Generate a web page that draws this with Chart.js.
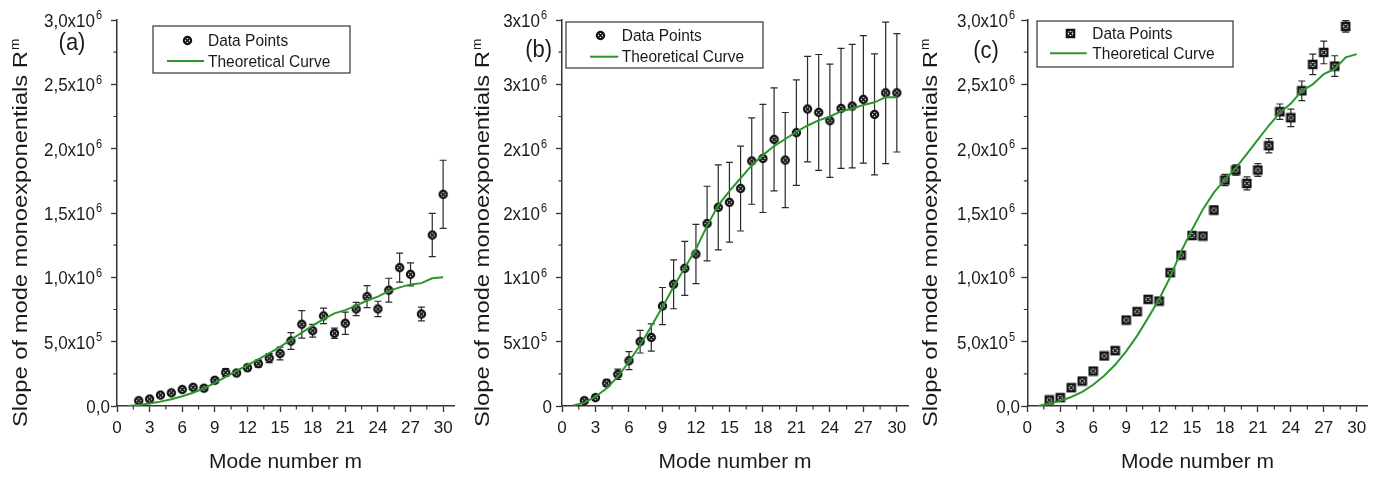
<!DOCTYPE html>
<html>
<head>
<meta charset="utf-8">
<script src="https://cdn.jsdelivr.net/npm/chart.js@4.4.1/dist/chart.umd.min.js"></script>
<style>
  html, body { margin: 0; padding: 0; background: #fff; }
  #wrap { position: relative; width: 1381px; height: 477px; overflow: hidden; }
  canvas { position: absolute; top: 0; }
</style>
</head>
<body>
<div id="wrap">
  <canvas id="chartA" width="460" height="477" style="left:0px"></canvas>
  <canvas id="chartB" width="460" height="477" style="left:460px"></canvas>
  <canvas id="chartC" width="461" height="477" style="left:920px"></canvas>
</div>
<script>
// --- data (slopes in units of 10^6) ---
const modes = [2, 3, 4, 5, 6, 7, 8, 9, 10, 11, 12, 13, 14, 15, 16, 17, 18, 19, 20, 21, 22, 23, 24, 25, 26, 27, 28, 29, 30];
const curveModes = [1, 2, 3, 4, 5, 6, 7, 8, 9, 10, 11, 12, 13, 14, 15, 16, 17, 18, 19, 20, 21, 22, 23, 24, 25, 26, 27, 28, 29, 30];

// (a)
const slopeA = [0.041, 0.054, 0.085, 0.102, 0.128, 0.145, 0.138, 0.200, 0.260, 0.256, 0.297, 0.329, 0.372, 0.408, 0.505,
                0.635, 0.585, 0.700, 0.565, 0.643, 0.754, 0.850, 0.754, 0.900, 1.075, 1.023, 0.715, 1.329, 1.645];
const errA = [0.015, 0.015, 0.015, 0.015, 0.015, 0.018, 0.018, 0.020, 0.030, 0.020, 0.022, 0.028, 0.035, 0.050, 0.065,
              0.107, 0.050, 0.060, 0.040, 0.087, 0.052, 0.085, 0.060, 0.093, 0.113, 0.090, 0.054, 0.168, 0.265];
const curveA = [0, 0.008, 0.020, 0.034, 0.052, 0.076, 0.103, 0.137, 0.180, 0.227, 0.273, 0.318, 0.363, 0.410, 0.460,
                0.515, 0.570, 0.625, 0.675, 0.720, 0.745, 0.780, 0.820, 0.850, 0.893, 0.922, 0.945, 0.955, 0.993, 1.000];

// (b)
const slopeB = [0.041, 0.065, 0.178, 0.246, 0.352, 0.500, 0.533, 0.777, 0.946, 1.070, 1.181, 1.418, 1.544, 1.583, 1.690,
                1.904, 1.924, 2.072, 1.911, 2.124, 2.308, 2.282, 2.217, 2.313, 2.331, 2.383, 2.266, 2.434, 2.434];
const errB = [0.020, 0.020, 0.025, 0.040, 0.070, 0.088, 0.106, 0.144, 0.190, 0.210, 0.230, 0.290, 0.330, 0.310, 0.330,
              0.336, 0.420, 0.400, 0.370, 0.410, 0.410, 0.450, 0.440, 0.466, 0.480, 0.495, 0.470, 0.550, 0.460];
const curveB = [0.005, 0.026, 0.072, 0.137, 0.228, 0.344, 0.474, 0.620, 0.770, 0.927, 1.075, 1.220, 1.400, 1.560, 1.670,
                1.770, 1.870, 1.950, 2.020, 2.075, 2.130, 2.180, 2.220, 2.250, 2.290, 2.310, 2.340, 2.360, 2.400, 2.400];

// (c)
const slopeC = [0.047, 0.065, 0.142, 0.194, 0.272, 0.389, 0.430, 0.668, 0.733, 0.829, 0.816, 1.036, 1.173, 1.325, 1.321,
                1.523, 1.756, 1.834, 1.730, 1.834, 2.023, 2.287, 2.240, 2.450, 2.655, 2.748, 2.642, 2.950];
const errC = [0.015, 0.015, 0.015, 0.015, 0.015, 0.015, 0.015, 0.015, 0.015, 0.015, 0.015, 0.015, 0.015, 0.018, 0.018,
              0.030, 0.044, 0.040, 0.050, 0.050, 0.056, 0.060, 0.068, 0.076, 0.080, 0.088, 0.080, 0.045];
const curveC = [0, 0.020, 0.040, 0.070, 0.110, 0.165, 0.235, 0.320, 0.425, 0.545, 0.685, 0.830, 1.000, 1.200, 1.370,
                1.530, 1.660, 1.760, 1.850, 1.960, 2.070, 2.180, 2.280, 2.350, 2.450, 2.500, 2.580, 2.620, 2.710, 2.735];

// axis ticks
const xTickValues = [0, 3, 6, 9, 12, 15, 18, 21, 24, 27, 30];
const xMinorTicks = [1.5, 4.5, 7.5, 10.5, 13.5, 16.5, 19.5, 22.5, 25.5, 28.5];
const yTickValues = [0, 0.5, 1, 1.5, 2, 2.5, 3];
const yMinorTicks = [0.25, 0.75, 1.25, 1.75, 2.25, 2.75];
const yMantAC = ['0,0', '5,0x10', '1,0x10', '1,5x10', '2,0x10', '2,5x10', '3,0x10'];
const yMantB = ['0', '5x10', '1x10', '2x10', '2x10', '3x10', '3x10'];
const yExp = ['', '5', '6', '6', '6', '6', '6'];

const FONT = "'Liberation Sans', Arial, Helvetica, sans-serif";
const GREEN = '#2b962b';
const INK = '#1a1a1a';
const AXIS = '#333';
const STRETCH = 1.1;   // text is slightly tall in this figure

// crossed-circle (or crossed-square) marker used for the data points
function makeMarker(square) {
  const c = document.createElement('canvas');
  c.width = 11; c.height = 11;
  const g = c.getContext('2d');
  g.fillStyle = '#fff';
  g.strokeStyle = '#111';
  g.lineWidth = 2.2;
  g.beginPath();
  if (square) g.rect(1.8, 1.8, 7.4, 7.4);
  else g.arc(5.5, 5.5, 3.6, 0, Math.PI * 2);
  g.fill();
  g.stroke();
  g.lineWidth = 1.5;
  g.beginPath();
  g.moveTo(3.4, 3.4); g.lineTo(7.6, 7.6);
  g.moveTo(7.6, 3.4); g.lineTo(3.4, 7.6);
  g.stroke();
  return c;
}

function stretchedText(ctx, text, x, y) {
  ctx.save();
  ctx.translate(x, y);
  ctx.scale(1, STRETCH);
  ctx.fillText(text, 0, 0);
  ctx.restore();
}

function decorPlugin(p) {
  return {
    id: 'decor',
    beforeDatasetsDraw(chart) {
      // error bars
      const { ctx } = chart;
      const xs = chart.scales.x, ys = chart.scales.y;
      ctx.save();
      ctx.strokeStyle = '#2a2a2a';
      ctx.lineWidth = 1.2;
      p.values.forEach((v, i) => {
        const e = p.errors[i];
        const px = xs.getPixelForValue(modes[i]);
        const top = ys.getPixelForValue(v + e);
        const bot = ys.getPixelForValue(v - e);
        ctx.beginPath();
        ctx.moveTo(px, top); ctx.lineTo(px, bot);
        ctx.moveTo(px - 3.5, top); ctx.lineTo(px + 3.5, top);
        ctx.moveTo(px - 3.5, bot); ctx.lineTo(px + 3.5, bot);
        ctx.stroke();
      });
      ctx.restore();
    },
    afterDraw(chart) {
      const { ctx, chartArea } = chart;
      const xs = chart.scales.x, ys = chart.scales.y;
      ctx.save();

      // minor ticks
      ctx.strokeStyle = AXIS;
      ctx.lineWidth = 1.2;
      ctx.beginPath();
      xMinorTicks.forEach(v => {
        const px = xs.getPixelForValue(v);
        ctx.moveTo(px, chartArea.bottom); ctx.lineTo(px, chartArea.bottom + 3.5);
      });
      yMinorTicks.forEach(v => {
        const py = ys.getPixelForValue(v);
        ctx.moveTo(chartArea.left, py); ctx.lineTo(chartArea.left - 3.5, py);
      });
      ctx.stroke();

      // y tick labels with superscript exponent
      ctx.fillStyle = INK;
      ctx.textBaseline = 'middle';
      yTickValues.forEach((v, i) => {
        const py = ys.getPixelForValue(v) + 2;
        if (yExp[i]) {
          const right = p.yLabelRight - p.supGap;
          ctx.font = '17px ' + FONT;
          ctx.textAlign = 'right';
          stretchedText(ctx, p.yMant[i], right, py);
          ctx.font = '11px ' + FONT;
          ctx.textAlign = 'left';
          stretchedText(ctx, yExp[i], right + 1, py - 6);
        } else {
          ctx.font = '17px ' + FONT;
          ctx.textAlign = 'right';
          stretchedText(ctx, p.yMant[i], p.yLabelRight, py);
        }
      });

      // rotated y title with superscript m
      ctx.save();
      ctx.translate(p.titleBase, 427);
      ctx.rotate(-Math.PI / 2);
      ctx.scale(1.13, 1);
      ctx.textAlign = 'left';
      ctx.textBaseline = 'alphabetic';
      ctx.font = '21px ' + FONT;
      const main = 'Slope of mode monoexponentials R';
      ctx.fillText(main, 0, 0);
      const w = ctx.measureText(main).width;
      ctx.font = '12px ' + FONT;
      ctx.fillText('m', w + 1, -8);
      ctx.restore();

      // panel letter
      ctx.font = '22px ' + FONT;
      ctx.textAlign = 'center';
      ctx.textBaseline = 'middle';
      stretchedText(ctx, p.letter, p.letterPos[0], p.letterPos[1]);

      // legend
      const L = p.legend;
      ctx.fillStyle = '#fff';
      ctx.fillRect(L.box[0], L.box[1], L.box[2], L.box[3]);
      ctx.strokeStyle = AXIS;
      ctx.lineWidth = 1.2;
      ctx.strokeRect(L.box[0], L.box[1], L.box[2], L.box[3]);
      ctx.drawImage(p.marker, Math.round(L.marker[0] - 5.5), Math.round(L.marker[1] - 5.5));
      ctx.strokeStyle = GREEN;
      ctx.lineWidth = 2;
      ctx.beginPath();
      ctx.moveTo(L.line[0], L.line[2]); ctx.lineTo(L.line[1], L.line[2]);
      ctx.stroke();
      ctx.fillStyle = INK;
      ctx.font = '15.5px ' + FONT;
      ctx.textAlign = 'left';
      ctx.textBaseline = 'middle';
      stretchedText(ctx, chart.data.datasets[0].label, L.textX, L.marker[1] + 1);
      stretchedText(ctx, chart.data.datasets[1].label, L.textX, L.line[2] + 1);

      ctx.restore();
    }
  };
}

function makePanel(p) {
  p.marker = makeMarker(p.square);
  const ctx = document.getElementById(p.id).getContext('2d');
  return new Chart(ctx, {
    type: 'scatter',
    data: {
      datasets: [
        {
          label: 'Data Points',
          data: p.values.map((v, i) => ({ x: modes[i], y: v })),
          pointStyle: p.marker,
          pointRadius: 5,
          pointHoverRadius: 5,
          order: 1
        },
        {
          label: 'Theoretical Curve',
          type: 'line',
          data: p.curve.map((v, i) => ({ x: curveModes[i], y: v })),
          borderColor: GREEN,
          borderWidth: 2,
          pointRadius: 0,
          fill: false,
          tension: 0,
          order: 0
        }
      ]
    },
    options: {
      responsive: false,
      animation: false,
      events: [],
      layout: { padding: { top: 20, right: p.padRight, left: 0, bottom: 0 } },
      plugins: { legend: { display: false }, tooltip: { enabled: false } },
      scales: {
        x: {
          type: 'linear',
          min: 0,
          max: 31,
          afterBuildTicks: s => { s.ticks = xTickValues.map(v => ({ value: v })); },
          afterFit: s => { s.height = 71; },
          ticks: { font: { family: FONT, size: 17 }, color: INK, padding: 6, autoSkip: false, maxRotation: 0 },
          grid: { drawOnChartArea: false, drawTicks: true, tickLength: 6, color: AXIS, tickWidth: 1.3 },
          border: { display: true, color: AXIS, width: 1.5 },
          title: {
            display: true,
            text: 'Mode number m',
            font: { family: FONT, size: 21 },
            color: INK,
            padding: { top: 0, bottom: 2 }
          }
        },
        y: {
          type: 'linear',
          min: 0,
          max: 3,
          afterBuildTicks: s => { s.ticks = yTickValues.map(v => ({ value: v })); },
          afterFit: s => { s.width = p.left; },
          ticks: { callback: () => '', autoSkip: false },
          grid: { drawOnChartArea: false, drawTicks: true, tickLength: 6, color: AXIS, tickWidth: 1.3 },
          border: { display: true, color: AXIS, width: 1.5 }
        }
      }
    },
    plugins: [decorPlugin(p)]
  });
}

makePanel({
  id: 'chartA', values: slopeA, errors: errA, curve: curveA, yMant: yMantAC, square: false,
  left: 117, padRight: 1, yLabelRight: 110, supGap: 15, titleBase: 26.5,
  letter: '(a)', letterPos: [72, 43],
  legend: { box: [153, 26, 197, 47], marker: [187, 40], line: [167, 204, 61], textX: 208 }
});
makePanel({
  id: 'chartB', values: slopeB, errors: errB, curve: curveB, yMant: yMantB, square: false,
  left: 102, padRight: 12, yLabelRight: 92, supGap: 12, titleBase: 28.5,
  letter: '(b)', letterPos: [78.7, 50],
  legend: { box: [106, 22, 197, 46], marker: [140.7, 35], line: [130, 158.3, 56.7], textX: 161.7 }
});
makePanel({
  id: 'chartC', values: slopeC, errors: errC, curve: curveC, yMant: yMantAC, square: true,
  left: 107.3, padRight: 13.3, yLabelRight: 100, supGap: 12, titleBase: 16.5,
  letter: '(c)', letterPos: [66, 51.7],
  legend: { box: [117, 21, 196, 46], marker: [150, 33.3], line: [130, 166.7, 53.3], textX: 172.3 }
});
</script>
</body>
</html>
